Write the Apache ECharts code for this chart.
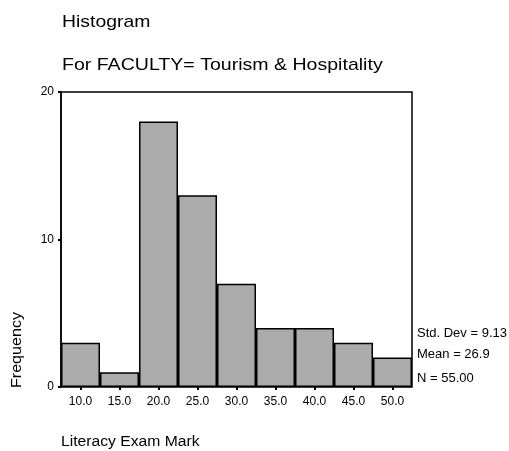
<!DOCTYPE html>
<html>
<head>
<meta charset="utf-8">
<script src="https://cdn.jsdelivr.net/npm/echarts@6/dist/echarts.min.js"></script>
<style>html,body{margin:0;padding:0;background:#fff}#c{width:509px;height:451px}</style>
</head>
<body>
<div id="c"></div>
<script>
const categories = ['10.0','15.0','20.0','25.0','30.0','35.0','40.0','45.0','50.0'];
const frequencies = [3, 1, 18, 13, 7, 4, 4, 3, 2];
const yTicks = [0, 10, 20];
const statsLines = ['Std. Dev = 9.13', 'Mean = 26.9', 'N = 55.00'];
const titleText = 'Histogram';
const subtitleText = 'For FACULTY= Tourism & Hospitality';
const xName = 'Literacy Exam Mark';
const yName = 'Frequency';

const FONT = '"Liberation Sans", Arial, sans-serif';
const chart = echarts.init(document.getElementById('c'), null, {renderer: 'canvas'});
chart.setOption({
  animation: false,
  backgroundColor: '#fff',
  grid: {left: 61, right: 97, top: 92, bottom: 64, show: true, borderColor: '#000', borderWidth: 1.5, backgroundColor: 'transparent'},
  xAxis: {
    type: 'category', data: categories,
    axisLine: {show: false},
    axisTick: {show: true, alignWithLabel: true, length: 3, lineStyle: {color: '#000', width: 2}},
    axisLabel: {color: '#000', fontSize: 12, fontFamily: FONT, margin: 9}
  },
  yAxis: {
    type: 'value', min: yTicks[0], max: yTicks[yTicks.length - 1], interval: 10,
    axisLine: {show: true, lineStyle: {color: '#000', width: 1.5}},
    axisTick: {show: true, length: 3, lineStyle: {color: '#000', width: 2}},
    splitLine: {show: false},
    axisLabel: {color: '#000', fontSize: 12, fontFamily: FONT, margin: 7}
  },
  series: [{
    type: 'bar', data: frequencies, barCategoryGap: '0%',
    itemStyle: {color: '#ababab', borderColor: '#000', borderWidth: 1.5}
  }],
  graphic: [
    {type: 'text', x: 62, y: 14, scaleX: 1.14, style: {text: titleText, font: '17px ' + FONT, fill: '#000'}},
    {type: 'text', x: 62, y: 57, scaleX: 1.15, style: {text: subtitleText, font: '17px ' + FONT, fill: '#000'}},
    {type: 'text', x: 61, y: 435, scaleX: 1.12, style: {text: xName, font: '14px ' + FONT, fill: '#000'}},
    {type: 'text', x: 17, y: 350, rotation: Math.PI / 2, scaleX: 1.15, style: {text: yName, font: '14px ' + FONT, fill: '#000', align: 'center', verticalAlign: 'middle'}},
    {type: 'text', x: 417, y: 327, style: {text: statsLines[0], font: '13px ' + FONT, fill: '#000'}},
    {type: 'text', x: 417, y: 348, style: {text: statsLines[1], font: '13px ' + FONT, fill: '#000'}},
    {type: 'text', x: 417, y: 372, style: {text: statsLines[2], font: '13px ' + FONT, fill: '#000'}}
  ]
});
</script>
</body>
</html>
